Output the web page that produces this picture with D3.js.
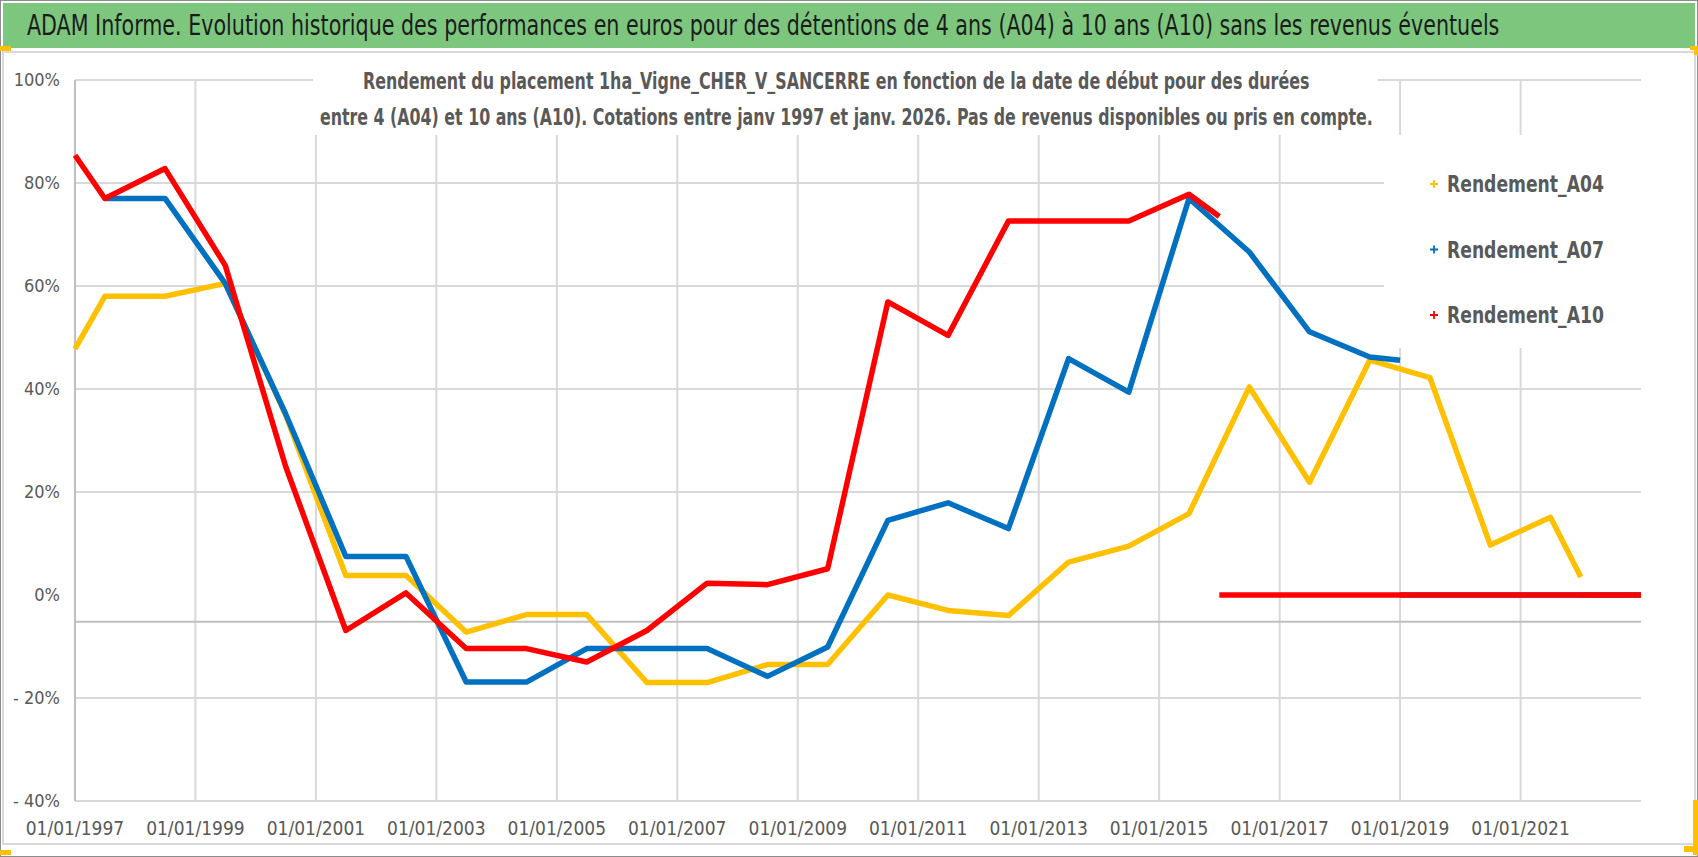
<!DOCTYPE html>
<html>
<head>
<meta charset="utf-8">
<script src="https://cdn.jsdelivr.net/npm/d3@7"></script>
<style>
  body { margin: 0; background: #fff; }
  svg { display: block; }
</style>
</head>
<body>
<div id="chart"></div>
<script>

// texts
var titleText = "ADAM Informe. Evolution historique des performances en euros pour des détentions de 4 ans (A04) à 10 ans (A10) sans les revenus éventuels";
var subtitleLines = [
  "Rendement du placement 1ha_Vigne_CHER_V_SANCERRE en fonction de la date de début pour des durées",
  "entre 4 (A04) et 10 ans (A10).  Cotations entre janv 1997 et janv. 2026. Pas de revenus disponibles ou pris en compte."
];

// series
var seriesNames = ["Rendement_A04", "Rendement_A07", "Rendement_A10"];
var seriesColors = ["#FFC000", "#0070C0", "#FF0000"];

// null = break in the line (end of the real data, then the zero values)
var datesA04 = ["1997-01-01","1997-07-01","1998-07-01","1999-07-01","2000-07-01","2001-07-01","2002-07-01",
  "2003-07-01","2004-07-01","2005-07-01","2006-07-01","2007-07-01","2008-07-01","2009-07-01","2010-07-01",
  "2011-07-01","2012-07-01","2013-07-01","2014-07-01","2015-07-01","2016-07-01","2017-07-01","2018-07-01",
  "2019-07-01","2020-07-01","2021-07-01","2022-01-01","2022-01-01","2022-01-01","2023-01-01"];
var valuesA04 = [47.8, 58, 58, 60.5, 35, 3.8, 3.8,
  -7.2, -3.8, -3.8, -17, -17, -13.5, -13.5, 0,
  -3, -4, 6.4, 9.5, 15.8, 40.4, 21.9, 45.6,
  42.2, 9.7, 15.1, 3.5, null, 0, 0];

var datesA07 = ["1997-07-01","1998-07-01","1999-07-01","2000-07-01","2001-07-01","2002-07-01",
  "2003-07-01","2004-07-01","2005-07-01","2006-07-01","2007-07-01","2008-07-01","2009-07-01","2010-07-01",
  "2011-07-01","2012-07-01","2013-07-01","2014-07-01","2015-07-01","2016-07-01","2017-07-01","2018-07-01",
  "2019-01-01","2019-01-01","2019-01-01","2023-01-01"];
var valuesA07 = [77, 77, 60.5, 35.2, 7.5, 7.5,
  -16.9, -16.9, -10.4, -10.4, -10.4, -15.8, -10.1, 14.5,
  17.9, 12.9, 45.9, 39.4, 77, 66.6, 51.1, 46.2,
  45.6, null, 0, 0];

var datesA10 = ["1997-01-01","1997-07-01","1998-07-01","1999-07-01","2000-07-01","2001-07-01","2002-07-01",
  "2003-07-01","2004-07-01","2005-07-01","2006-07-01","2007-07-01","2008-07-01","2009-07-01","2010-07-01",
  "2011-07-01","2012-07-01","2013-07-01","2014-07-01","2015-07-01","2016-01-01",
  "2016-01-01","2016-01-01","2023-01-01"];
var valuesA10 = [85.4, 77, 82.8, 64, 25, -6.9, 0.4,
  -10.4, -10.4, -13, -6.9, 2.3, 2.0, 5.1, 56.9,
  50.4, 72.6, 72.6, 72.6, 77.8, 73.5,
  null, 0, 0];

// axes
var yTicks = [100, 80, 60, 40, 20, 0, -20, -40];
var yTickLabels = ["100%", "80%", "60%", "40%", "20%", "0%", "- 20%", "- 40%"];
var xTickLabels = ["01/01/1997","01/01/1999","01/01/2001","01/01/2003","01/01/2005","01/01/2007",
  "01/01/2009","01/01/2011","01/01/2013","01/01/2015","01/01/2017","01/01/2019","01/01/2021"];
var xDomain = ["1997-01-01", "2023-01-01"];
var axisCross = -5.2;   // value where the horizontal axis line sits

var W = 1698, H = 857;
var narrow = "'Liberation Sans Narrow', 'DejaVu Sans Condensed', 'Roboto', sans-serif";

var svg = d3.select("#chart").append("svg")
    .attr("width", W)
    .attr("height", H);

var parseIso = d3.timeParse("%Y-%m-%d");
var parseFr = d3.timeParse("%d/%m/%Y");

var x = d3.scaleTime().domain(xDomain.map(parseIso)).range([75, 1641]);
var y = d3.scaleLinear().domain([-40, 100]).range([801, 80]);

// text squeezed horizontally to a given width (condensed look)
function fitText(sel, x0, y0, width) {
  var w = sel.node().getComputedTextLength();
  sel.attr("transform", "translate(" + x0 + "," + y0 + ") scale(" + (width / w) + ",1)");
}

// frame, title bar, chart area
svg.append("rect").attr("x", 0.5).attr("y", 0.5).attr("width", W - 1).attr("height", H - 1)
    .attr("fill", "#fff").attr("stroke", "#8c8c8c");
svg.append("rect").attr("x", 3).attr("y", 3).attr("width", W - 6).attr("height", 45)
    .attr("fill", "#7DC67E");
svg.append("rect").attr("x", 3).attr("y", 52).attr("width", W - 6).attr("height", 792)
    .attr("fill", "#fff").attr("stroke", "#d9d9d9").attr("stroke-width", 2);

var title = svg.append("text")
    .attr("font-family", narrow)
    .attr("font-size", 28)
    .attr("fill", "#1b1b1b")
    .text(titleText);
fitText(title, 27, 35, 1473);

// gridlines
var xTickDates = xTickLabels.map(parseFr);
svg.append("g").selectAll("line.h")
    .data(yTicks.filter(function(d) { return d !== 0; }))
    .enter().append("line")
    .attr("x1", 75).attr("x2", 1641)
    .attr("y1", function(d) { return y(d); })
    .attr("y2", function(d) { return y(d); })
    .attr("stroke", "#d9d9d9").attr("stroke-width", 2);

svg.append("g").selectAll("line.v")
    .data(xTickDates.slice(1))
    .enter().append("line")
    .attr("x1", function(d) { return x(d); })
    .attr("x2", function(d) { return x(d); })
    .attr("y1", y(100)).attr("y2", y(-40))
    .attr("stroke", "#d9d9d9").attr("stroke-width", 2);

// white boxes of subtitle and legend hide the grid
svg.append("rect").attr("x", 313).attr("y", 56).attr("width", 1065).attr("height", 79).attr("fill", "#fff");
svg.append("rect").attr("x", 1384).attr("y", 135).attr("width", 290).attr("height", 213).attr("fill", "#fff");

// axis lines
svg.append("line").attr("x1", 75).attr("x2", 75).attr("y1", y(100)).attr("y2", y(-40))
    .attr("stroke", "#bfbfbf").attr("stroke-width", 2);
svg.append("line").attr("x1", 75).attr("x2", 1641).attr("y1", y(axisCross)).attr("y2", y(axisCross))
    .attr("stroke", "#bfbfbf").attr("stroke-width", 2);

// y labels
svg.append("g").selectAll("text")
    .data(yTicks)
    .enter().append("text")
    .attr("x", 60)
    .attr("y", function(d) { return y(d); })
    .attr("dy", "0.35em")
    .attr("text-anchor", "end")
    .attr("font-family", narrow)
    .attr("font-size", 18)
    .attr("fill", "#595959")
    .text(function(d, i) { return yTickLabels[i]; });

// x labels
svg.append("g").selectAll("text")
    .data(xTickDates)
    .enter().append("text")
    .attr("x", function(d) { return x(d); })
    .attr("y", 835)
    .attr("text-anchor", "middle")
    .attr("font-family", narrow)
    .attr("font-size", 19)
    .attr("fill", "#595959")
    .text(function(d, i) { return xTickLabels[i]; });

// subtitle
var sub1 = svg.append("text")
    .attr("font-family", narrow).attr("font-size", 23).attr("font-weight", "bold")
    .attr("fill", "#595959")
    .text(subtitleLines[0]);
fitText(sub1, 363, 89, 947);
var sub2 = svg.append("text")
    .attr("font-family", narrow).attr("font-size", 23).attr("font-weight", "bold")
    .attr("fill", "#595959")
    .text(subtitleLines[1]);
fitText(sub2, 320, 125, 1053);

// series
var allDates = [datesA04, datesA07, datesA10];
var allValues = [valuesA04, valuesA07, valuesA10];

var valueline = d3.line()
    .defined(function(d) { return d.value !== null; })
    .x(function(d) { return x(d.date); })
    .y(function(d) { return y(d.value); });

seriesNames.forEach(function(name, i) {
  var data = allDates[i].map(function(dt, j) {
    return {date: parseIso(dt), value: allValues[i][j]};
  });
  svg.append("path")
      .datum(data)
      .attr("fill", "none")
      .attr("stroke", seriesColors[i])
      .attr("stroke-width", 5.5)
      .attr("stroke-linejoin", "round")
      .attr("d", valueline);
});

// legend
seriesNames.forEach(function(name, i) {
  var ly = 184 + i * 65.5;
  svg.append("path")
      .attr("transform", "translate(1434," + ly + ")")
      .attr("d", "M-4,0H4M0,-4V4")
      .attr("stroke", seriesColors[i])
      .attr("stroke-width", 1.8);
  var t = svg.append("text")
      .attr("dy", "0.35em")
      .attr("font-family", narrow)
      .attr("font-size", 23)
      .attr("font-weight", "bold")
      .attr("fill", "#595959")
      .text(name);
  fitText(t, 1447, ly, 157);
});

// yellow selection handles of the chart object
svg.append("rect").attr("x", 0).attr("y", 46).attr("width", 11).attr("height", 5).attr("fill", "#FFC000");
svg.append("rect").attr("x", 0).attr("y", 850).attr("width", 11).attr("height", 5).attr("fill", "#FFC000");
svg.append("rect").attr("x", 1690).attr("y", 46).attr("width", 8).attr("height", 4).attr("fill", "#FFC000");
svg.append("rect").attr("x", 1694).attr("y", 46).attr("width", 4).attr("height", 9).attr("fill", "#FFC000");
svg.append("rect").attr("x", 1693).attr("y", 800).attr("width", 5).attr("height", 55).attr("fill", "#FFC000");
svg.append("rect").attr("x", 1684).attr("y", 846).attr("width", 14).attr("height", 6).attr("fill", "#FFC000");

</script>
</body>
</html>
